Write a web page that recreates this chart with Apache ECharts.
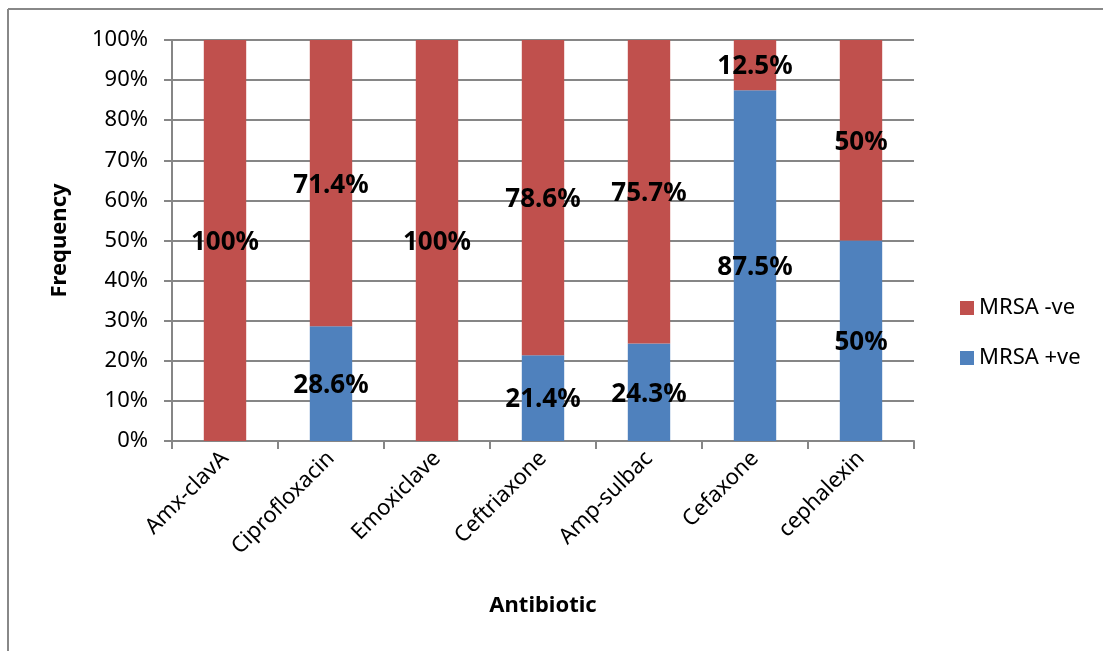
<!DOCTYPE html>
<html>
<head>
<meta charset="utf-8">
<script src="https://cdn.jsdelivr.net/npm/echarts@6/dist/echarts.min.js"></script>
<style>
html,body{margin:0;padding:0;background:#fff;}
#c{width:1103px;height:651px;}
</style>
</head>
<body>
<div id="c"></div>
<script>
const categories = ['Amx-clavA','Ciprofloxacin','Emoxiclave','Ceftriaxone','Amp-sulbac','Cefaxone','cephalexin'];
const mrsaPos = [0, 28.6, 0, 21.4, 24.3, 87.5, 50];
const mrsaNeg = [100, 71.4, 100, 78.6, 75.7, 12.5, 50];
const yTicks = [0,10,20,30,40,50,60,70,80,90,100];

const FONT = 'Noto Sans';
const chart = echarts.init(document.getElementById('c'));
const lbl = {
  show: true,
  position: 'inside',
  offset: [0, 2],
  color: '#000',
  fontFamily: FONT,
  fontWeight: 'bold',
  fontSize: 26,
  formatter: p => p.value === 0 ? '' : p.value + '%'
};
chart.setOption({
  animation: false,
  backgroundColor: '#fff',
  textStyle: {fontFamily: FONT},
  graphic: [
    {type:'line', shape:{x1:8,y1:9,x2:1103,y2:9}, style:{stroke:'#888',lineWidth:2}},
    {type:'line', shape:{x1:8,y1:9,x2:8,y2:651}, style:{stroke:'#888',lineWidth:2}}
  ],
  grid: {left:172, top:40, right:189, bottom:210, containLabel:false},
  legend: {
    orient: 'vertical',
    left: 955,
    top: 292,
    itemWidth: 14,
    itemHeight: 14,
    itemGap: 28,
    icon: 'rect',
    data: ['MRSA -ve','MRSA +ve'],
    textStyle: {fontFamily: FONT, fontSize: 22, color:'#000'}
  },
  xAxis: {
    type: 'category',
    data: categories,
    name: 'Antibiotic',
    nameLocation: 'middle',
    nameGap: 154,
    nameTextStyle: {fontFamily: FONT, fontWeight:'bold', fontSize: 22, color:'#000'},
    axisLine: {lineStyle:{color:'#868686', width:2}},
    axisTick: {show:true, length:8, lineStyle:{color:'#868686', width:2}, alignWithLabel:false},
    axisLabel: {rotate:45, fontFamily: FONT, fontSize: 22, color:'#000', margin:14, interval:0}
  },
  yAxis: {
    type: 'value',
    min: 0, max: 100, interval: 10,
    name: 'Frequency',
    nameLocation: 'middle',
    nameRotate: 90,
    nameGap: 101,
    nameTextStyle: {fontFamily: FONT, fontWeight:'bold', fontSize: 22, color:'#000'},
    axisLine: {show:true, lineStyle:{color:'#868686', width:2}},
    axisTick: {show:true, length:8, lineStyle:{color:'#868686', width:2}},
    splitLine: {show:true, lineStyle:{color:'#868686', width:2}},
    axisLabel: {fontFamily: FONT, fontSize: 22, color:'#000', margin:24,
      formatter: v => yTicks.includes(v) ? v + '%' : ''}
  },
  series: [
    {name:'MRSA +ve', type:'bar', stack:'s', data: mrsaPos, barWidth:'40%',
      itemStyle:{color:'#4F81BD'}, label: lbl},
    {name:'MRSA -ve', type:'bar', stack:'s', data: mrsaNeg, barWidth:'40%',
      itemStyle:{color:'#C0504D'}, label: lbl}
  ]
});
</script>
</body>
</html>
